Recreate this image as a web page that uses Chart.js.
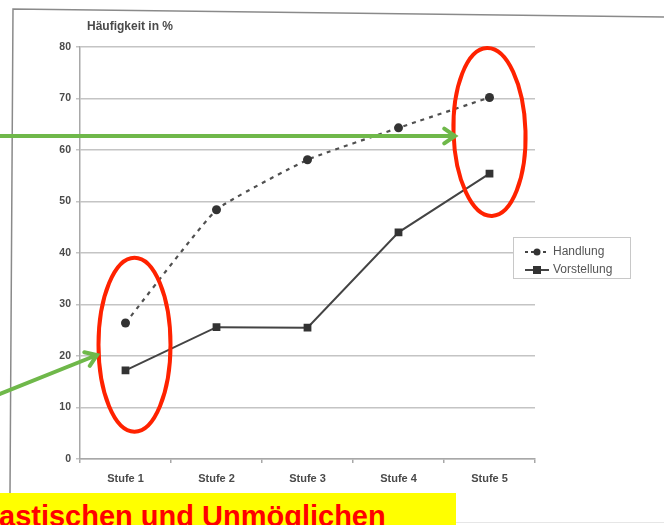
<!DOCTYPE html>
<html>
<head>
<meta charset="utf-8">
<script src="https://cdn.jsdelivr.net/npm/chart.js@4.4.1/dist/chart.umd.min.js"></script>
<style>
  html, body { margin: 0; padding: 0; background: #fff; }
  #wrap { position: relative; width: 664px; height: 525px; overflow: hidden; }
  #chart { position: absolute; left: 0; top: 0; }
  #title { position: absolute; left: 87px; top: 19px; font: bold 12px 'Liberation Sans', Arial, sans-serif; color: #4a4a4a; }
  #legend { position: absolute; left: 513px; top: 237px; width: 116px; height: 40px; border: 1px solid #c8c8c8; background: #fff;
            font: 12px 'Liberation Sans', Arial, sans-serif; color: #555; }
  #legend .row { position: absolute; left: 10px; height: 14px; line-height: 14px; white-space: nowrap; }
  #legend canvas { vertical-align: middle; margin-right: 3px; }
  #caption { position: absolute; left: 0; top: 493px; width: 456px; height: 32px; background: #ffff00; overflow: hidden; }
  #caption span { position: absolute; left: -1px; top: 7px; white-space: nowrap; color: #ff0000;
                  font: bold 29px 'Liberation Sans', Arial, sans-serif; }
  #baseLine { position: absolute; left: 456px; top: 522px; width: 208px; height: 1px; background: #e6e6e6; }
</style>
</head>
<body>
<div id="wrap">
  <canvas id="chart" width="664" height="525"></canvas>
  <div id="title">Häufigkeit in %</div>
  <div id="legend"></div>
  <div id="caption"><span>astischen und Unmöglichen</span></div>
  <div id="baseLine"></div>
</div>
<script>
'use strict';

var categories = ['Stufe 1', 'Stufe 2', 'Stufe 3', 'Stufe 4', 'Stufe 5'];
var seriesNames = ['Handlung', 'Vorstellung'];
var handlung = [26.4, 48.4, 58.1, 64.3, 70.2];
var vorstellung = [17.2, 25.6, 25.5, 44.0, 55.4];
var yTicks = [0, 10, 20, 30, 40, 50, 60, 70, 80];

var lineColor = '#444';
var font = "'Liberation Sans', Arial, sans-serif";

// red ellipses and green arrows drawn over the scanned chart
var overlayPlugin = {
  id: 'overlay',
  afterDraw: function(chart) {
    var ctx = chart.ctx;
    var x = chart.scales.x;
    var y = chart.scales.y;
    ctx.save();

    // page frame of the scan
    ctx.strokeStyle = '#8a8a8a';
    ctx.lineWidth = 1.5;
    ctx.beginPath();
    ctx.moveTo(10, 493);
    ctx.lineTo(13, 9);
    ctx.lineTo(664, 17);
    ctx.stroke();

    // ellipses
    ctx.strokeStyle = '#ff2200';
    ctx.lineWidth = 4;
    ctx.beginPath();
    ctx.ellipse(x.getPixelForValue(0) + 9, y.getPixelForValue(22.2), 36, 87, 0, 0, Math.PI * 2);
    ctx.stroke();
    ctx.beginPath();
    ctx.ellipse(x.getPixelForValue(4), y.getPixelForValue(63.5), 36, 84, -0.03, 0, Math.PI * 2);
    ctx.stroke();

    // arrows
    ctx.strokeStyle = '#6fb84a';
    ctx.lineWidth = 4;
    ctx.lineCap = 'round';
    drawArrow(ctx, 0, 136, 455, 136);
    drawArrow(ctx, 0, 394, 97, 355);

    ctx.restore();
  }
};

function drawArrow(ctx, x1, y1, x2, y2) {
  var a = Math.atan2(y2 - y1, x2 - x1);
  var len = 13;
  ctx.beginPath();
  ctx.moveTo(x1, y1);
  ctx.lineTo(x2, y2);
  ctx.moveTo(x2 - len * Math.cos(a - 0.6), y2 - len * Math.sin(a - 0.6));
  ctx.lineTo(x2, y2);
  ctx.lineTo(x2 - len * Math.cos(a + 0.6), y2 - len * Math.sin(a + 0.6));
  ctx.stroke();
}

var ctx = document.getElementById('chart').getContext('2d');
var chart = new Chart(ctx, {
  type: 'line',
  data: {
    labels: categories,
    datasets: [
      {
        label: seriesNames[0],
        data: handlung,
        borderColor: '#505050',
        backgroundColor: '#333',
        borderWidth: 2.2,
        borderDash: [4, 5],
        tension: 0.12,
        pointStyle: 'circle',
        pointRadius: 4.5,
        pointBorderWidth: 0
      },
      {
        label: seriesNames[1],
        data: vorstellung,
        borderColor: lineColor,
        backgroundColor: '#333',
        borderWidth: 2,
        tension: 0,
        pointStyle: 'rect',
        pointRadius: 5.5,
        pointBorderWidth: 0
      }
    ]
  },
  options: {
    responsive: false,
    animation: false,
    layout: { padding: { left: 0, right: 129, top: 47, bottom: 38 } },
    plugins: {
      legend: { display: false },
      tooltip: { enabled: false }
    },
    scales: {
      x: {
        offset: true,
        grid: { offset: true, drawOnChartArea: false, color: '#a8a8a8', tickLength: 4, lineWidth: 1.5 },
        border: { color: '#a8a8a8', width: 1.5 },
        ticks: { color: '#4a4a4a', padding: 9, font: { family: font, size: 11, weight: 'bold' } },
        afterFit: function(scale) { scale.height = 28; }
      },
      y: {
        min: 0,
        max: 80,
        afterBuildTicks: function(scale) {
          scale.ticks = yTicks.map(function(v) { return { value: v }; });
        },
        grid: { color: '#c4c4c4', lineWidth: 1.5, tickLength: 4 },
        border: { color: '#a8a8a8', width: 1.5 },
        ticks: { color: '#4a4a4a', padding: 5, font: { family: font, size: 10.5, weight: 'bold' } },
        afterFit: function(scale) { scale.width = 80; }
      }
    }
  },
  plugins: [overlayPlugin]
});

// legend with line + marker icons
var legend = document.getElementById('legend');
seriesNames.forEach(function(name, i) {
  var row = document.createElement('div');
  row.className = 'row';
  row.style.top = (6 + i * 18) + 'px';
  var icon = document.createElement('canvas');
  icon.width = 26;
  icon.height = 12;
  var ic = icon.getContext('2d');
  ic.strokeStyle = lineColor;
  ic.fillStyle = '#333';
  ic.lineWidth = 2;
  if (i === 0) ic.setLineDash([3, 3]);
  ic.beginPath();
  ic.moveTo(1, 6);
  ic.lineTo(25, 6);
  ic.stroke();
  if (i === 0) {
    ic.beginPath();
    ic.arc(13, 6, 3.5, 0, Math.PI * 2);
    ic.fill();
  } else {
    ic.fillRect(9, 2, 8, 8);
  }
  row.appendChild(icon);
  row.appendChild(document.createTextNode(name));
  legend.appendChild(row);
});
</script>
</body>
</html>
